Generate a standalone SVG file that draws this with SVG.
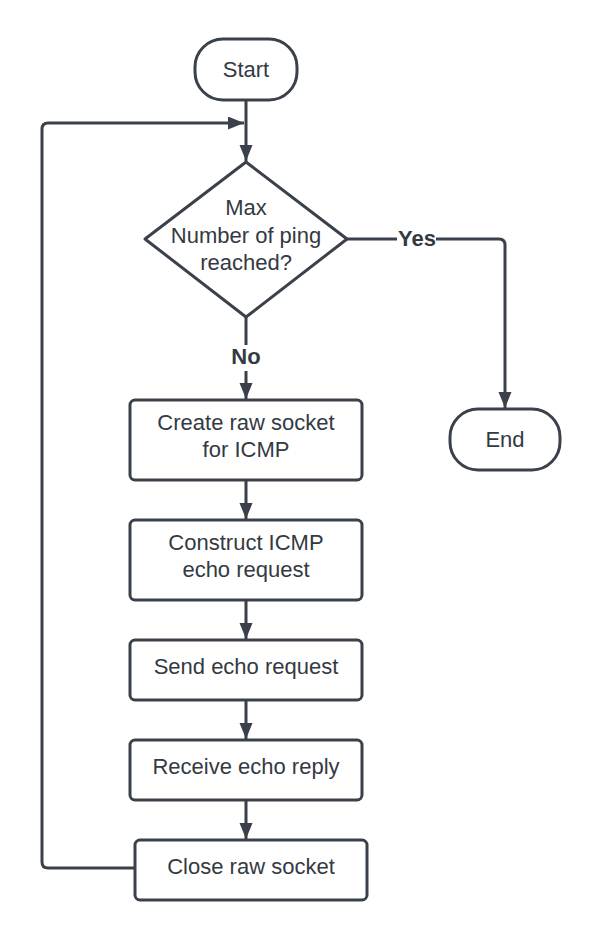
<svg xmlns="http://www.w3.org/2000/svg" width="602" height="940" viewBox="0 0 602 940">
<defs>
<style>
.shape{fill:#ffffff;stroke:#3a414a;stroke-width:3}
.line{fill:none;stroke:#3a414a;stroke-width:3}
.t{font-family:"Liberation Sans",Arial,sans-serif;font-size:22px;fill:#333a42;text-anchor:middle}
.b{font-family:"Liberation Sans",Arial,sans-serif;font-size:22px;font-weight:bold;fill:#333a42;text-anchor:middle}
</style>
<marker id="arr" markerUnits="userSpaceOnUse" markerWidth="17" markerHeight="14" refX="16" refY="6.5" orient="auto">
<path d="M0,0 L16,6.5 L0,13 z" fill="#3a414a"/>
</marker>
</defs>
<rect width="602" height="940" fill="#ffffff"/>
<g id="connectors">
<path class="line" d="M246,100 V161" marker-end="url(#arr)"/>
<path class="line" d="M135,868 H48 Q42,868 42,862 V129 Q42,123 48,123 H244" marker-end="url(#arr)"/>
<path class="line" d="M347,239 H397"/>
<path class="line" d="M436,239 H499 Q505,239 505,245 V408" marker-end="url(#arr)"/>
<path class="line" d="M246,317 V345"/>
<path class="line" d="M246,371 V399" marker-end="url(#arr)"/>
<path class="line" d="M246,480 V519" marker-end="url(#arr)"/>
<path class="line" d="M246,600 V639" marker-end="url(#arr)"/>
<path class="line" d="M246,700 V739" marker-end="url(#arr)"/>
<path class="line" d="M246,800 V839" marker-end="url(#arr)"/>
<text class="b" x="417" y="246">Yes</text>
<text class="b" x="246" y="364">No</text>
</g>
<g id="start">
<rect class="shape" x="195" y="39" width="102" height="61" rx="28"/>
<text class="t" x="246" y="77">Start</text>
</g>
<g id="decision">
<polygon class="shape" stroke-linejoin="round" points="246,162 347,239 246,317 145,239"/>
<text class="t" x="246" y="215">Max</text>
<text class="t" x="246" y="243">Number of ping</text>
<text class="t" x="246" y="270">reached?</text>
</g>
<g id="end">
<rect class="shape" x="450" y="409" width="110" height="61" rx="28"/>
<text class="t" x="505" y="447">End</text>
</g>
<g id="create">
<rect class="shape" x="130" y="400" width="232" height="80" rx="5"/>
<text class="t" x="246" y="430">Create raw socket</text>
<text class="t" x="246" y="457">for ICMP</text>
</g>
<g id="construct">
<rect class="shape" x="130" y="520" width="232" height="80" rx="5"/>
<text class="t" x="246" y="550">Construct ICMP</text>
<text class="t" x="246" y="577">echo request</text>
</g>
<g id="send">
<rect class="shape" x="130" y="640" width="232" height="60" rx="5"/>
<text class="t" x="246" y="674">Send echo request</text>
</g>
<g id="receive">
<rect class="shape" x="130" y="740" width="232" height="60" rx="5"/>
<text class="t" x="246" y="774">Receive echo reply</text>
</g>
<g id="close">
<rect class="shape" x="135" y="840" width="232" height="60" rx="5"/>
<text class="t" x="251" y="874">Close raw socket</text>
</g>
</svg>
